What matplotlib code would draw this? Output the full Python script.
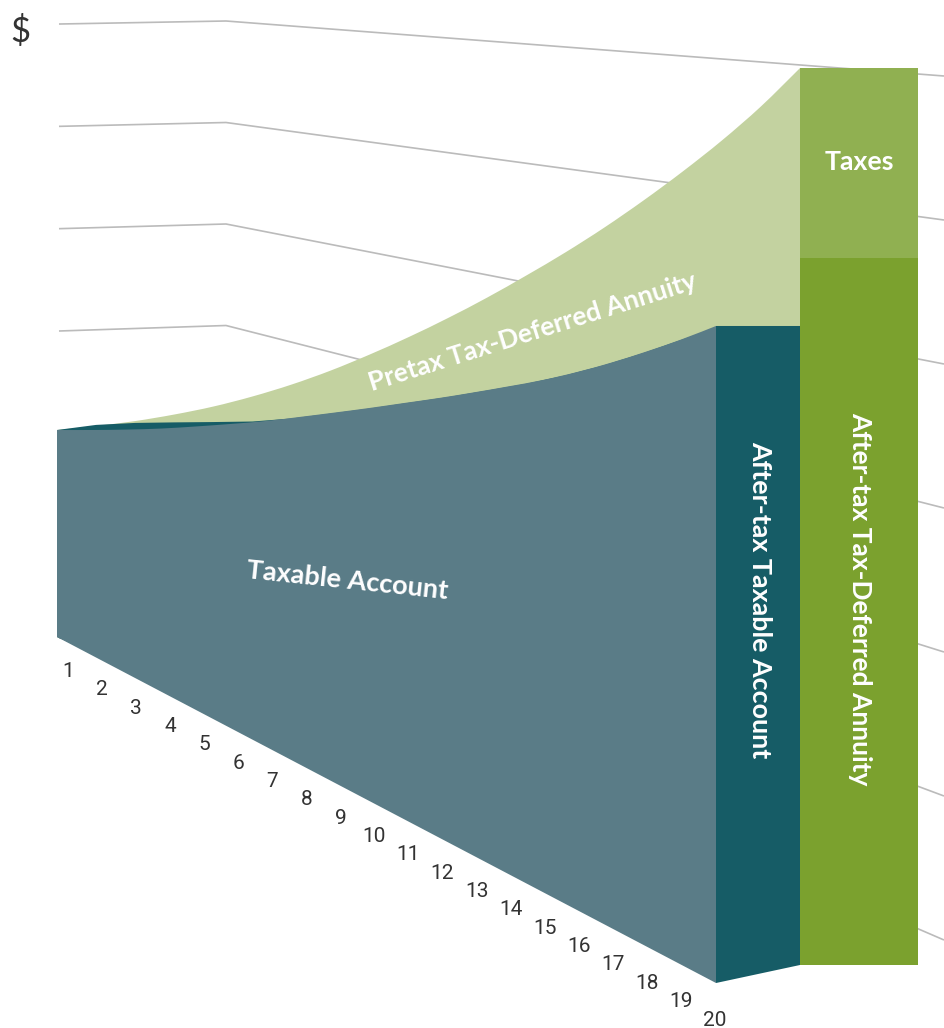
import matplotlib
matplotlib.use("Agg")
import matplotlib.pyplot as plt
from matplotlib.patches import PathPatch
from matplotlib.path import Path
from matplotlib.transforms import Affine2D

# Values, balance indexed to 100 at year 1
years = list(range(1, 21))
taxable_account = [100, 108.8, 117.8, 127.1, 136.9, 146.9, 157.1, 167.9, 178.8, 189.8,
                   201, 212.2, 223.7, 235.4, 247.3, 260, 273.4, 287.5, 302.1, 317.4]
after_tax_taxable = [100, 110.8, 120.1, 128.7, 137.2, 145.8, 155.6, 166.3, 177.1, 188.2,
                     199.3, 210.8, 222.4, 234.8, 248.1, 262.3, 277.2, 292, 300.3, 308.7]
pretax_annuity = [100, 110.3, 121, 132.5, 144.7, 157.9, 172, 187.1, 203.2, 220,
                  237.5, 255.7, 274.7, 294.2, 314.6, 336, 358.3, 381.6, 406.4, 433.3]
after_tax_annuity = 341.5
taxes = 91.8
grid_levels = [600, 500, 400, 300, 200, 100, 0]

# Colours
GRAY_TEAL = "#5a7c87"
DARK_TEAL = "#165c66"
PALE_GREEN = "#c3d2a0"
MID_GREEN = "#90b051"
GREEN = "#7ba12e"
GRID = "#bbbbbb"
INK = "#333333"

PX_PER_UNIT = 2.07


def year_plane(x1, x20, y1, y20):
    # maps (year, value) onto a slanted plane of the fake 3D drawing
    dx = (x20 - x1) / 19
    dy = (y20 - y1) / 19
    return Affine2D.from_values(dx, dy, 0, -PX_PER_UNIT, x1 - dx, y1 - dy)


def smooth_segments(xs, ys):
    # bezier control points so the curve passes through every yearly value
    verts = []
    n = len(xs)
    for i in range(n - 1):
        before = max(i - 1, 0)
        after = min(i + 2, n - 1)
        verts.append((xs[i] + (xs[i + 1] - xs[before]) / 6, ys[i] + (ys[i + 1] - ys[before]) / 6))
        verts.append((xs[i + 1] - (xs[after] - xs[i]) / 6, ys[i + 1] - (ys[after] - ys[i]) / 6))
        verts.append((xs[i + 1], ys[i + 1]))
    return verts


def curved_area(xs, top, rest):
    # smooth top edge, straight edges back along rest
    curve = smooth_segments(xs, top)
    verts = [(xs[0], top[0])] + curve + rest + [(xs[0], top[0])]
    codes = [Path.MOVETO] + [Path.CURVE4] * len(curve) + [Path.LINETO] * len(rest) + [Path.CLOSEPOLY]
    return Path(verts, codes)


fig = plt.figure(figsize=(9.44, 10.28), dpi=100)
ax = fig.add_axes([0, 0, 1, 1])
ax.set_xlim(0, 944)
ax.set_ylim(1028, 0)
ax.set_autoscale_on(False)
ax.axis("off")

front = year_plane(57, 716, 637, 983) + ax.transData
back = year_plane(57, 800, 637, 965) + ax.transData
bars = Affine2D.from_values(118, 0, 0, -PX_PER_UNIT, 800, 965) + ax.transData
ticks = Affine2D.from_values(34.05, 18.35, 0, 1, 33.95, 653.0) + ax.transData

# Wall lines: each level has a fixed height at the three corners of the wall
corner_x = [59, 226, 944]
corner_base = [638, 630, 940]
corner_step = [1.0233, 1.015, 1.44]
for level in grid_levels:
    ys = [b - s * level for b, s in zip(corner_base, corner_step)]
    ax.plot(corner_x, ys, color=GRID, lw=1.2, zorder=1, solid_capstyle="butt")

# Annuity surface
ax.add_patch(PathPatch(curved_area(years, pretax_annuity, [(20, 0), (1, 0)]), facecolor=PALE_GREEN,
                       lw=0, transform=back, zorder=2))

# Back plane of the taxable account, only a sliver of it stays in view
ax.fill(years + years[::-1], after_tax_taxable + [0] * 20, color=DARK_TEAL, lw=0,
        transform=back, zorder=3)

# Side face between the two planes at year 20
front_data = front - ax.transData
back_data = back - ax.transData
side = [front_data.transform((20, taxable_account[-1])),
        back_data.transform((20, after_tax_taxable[-1])),
        back_data.transform((20, 0)),
        front_data.transform((20, 0))]
ax.fill([p[0] for p in side], [p[1] for p in side], color=DARK_TEAL, lw=0, zorder=4)

# Front face
ax.add_patch(PathPatch(curved_area(years, taxable_account, [(20, 0), (1, 0)]), facecolor=GRAY_TEAL,
                       lw=0, transform=front, zorder=5))

# Stacked bar on the right
ax.bar(0, after_tax_annuity, width=1, align="edge", color=GREEN, lw=0,
       transform=bars, zorder=6)
ax.bar(0, taxes, bottom=after_tax_annuity, width=1, align="edge", color=MID_GREEN, lw=0,
       transform=bars, zorder=6)

# Text
label_font = dict(family=["Lato", "DejaVu Sans"], weight="bold", color="white",
                  ha="center", va="center", zorder=7, rotation_mode="anchor")
ax.text(347, 581, "Taxable Account", fontsize=19.5, rotation=-6, **label_font)
ax.text(533, 332, "Pretax Tax-Deferred Annuity", fontsize=19, rotation=17.5, **label_font)
ax.text(760, 600, "After-tax Taxable Account", fontsize=19.4, rotation=-90, **label_font)
ax.text(860, 599, "After-tax Tax-Deferred Annuity", fontsize=19, rotation=-90, **label_font)
ax.text(859, 162, "Taxes", fontsize=19.2, **label_font)

for year in years:
    ax.text(year, 0, str(year), transform=ticks, family=["Roboto", "DejaVu Sans"],
            fontsize=15, color=INK, ha="center", va="center")

ax.text(20, 32, "$", family=["Lato", "DejaVu Sans"], fontsize=25, color=INK, ha="center", va="center")

fig.savefig("out.png", dpi=100)
